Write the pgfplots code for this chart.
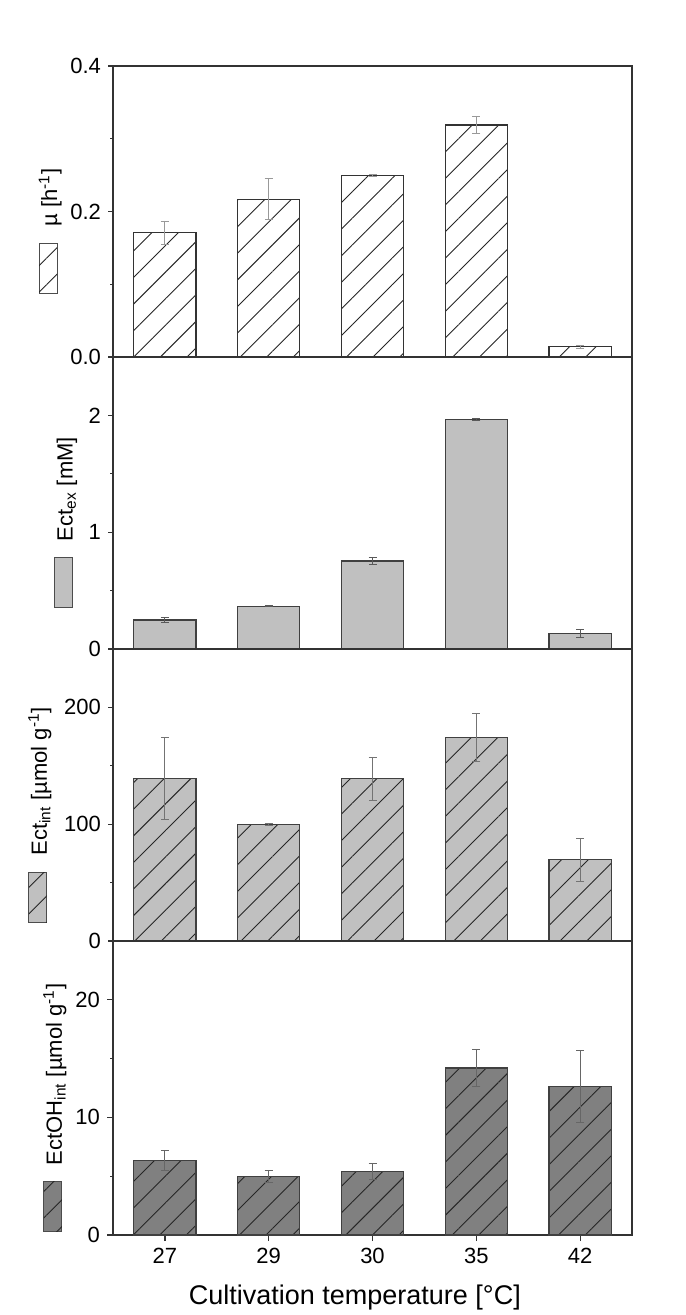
\documentclass[border=0pt]{standalone}
\usepackage{fontspec}
\setmainfont{Liberation Sans}
\usepackage{pgfplots}
\pgfplotsset{compat=1.18}
\usepackage{pgfplotstable}
\usetikzlibrary{patterns.meta}

\definecolor{lightbar}{HTML}{C0C0C0}
\definecolor{darkbar}{HTML}{808080}

\pgfplotstableread{
x y e
0 0.171 0.016
1 0.217 0.028
2 0.249 0.0015
3 0.319 0.012
4 0.014 0.002
}\dataMu

\pgfplotstableread{
x y e
0 0.249 0.02
1 0.367 0.005
2 0.753 0.03
3 1.963 0.01
4 0.135 0.035
}\dataEx

\pgfplotstableread{
x y e
0 139 35
1 100 1
2 139 18.5
3 174.4 20.5
4 69.7 18.5
}\dataInt

\pgfplotstableread{
x y e
0 6.32 0.85
1 4.98 0.5
2 5.41 0.7
3 14.21 1.6
4 12.65 3.06
}\dataOH

\tikzset{hatch/.style={postaction={pattern={Lines[angle=45,distance=9.4pt,line width=0.45pt]},pattern color=black!85}}}

\pgfplotsset{
  panel/.style={
    scale only axis, width=259.5pt, xmin=-0.5, xmax=4.5, ymin=0,
    anchor=south west,
    axis line style={black!80, line width=0.8pt},
    tick style={black!80, line width=0.6pt},
    tick align=outside, ytick pos=left, xtick pos=bottom,
    major tick length=2.5pt, minor tick length=1.5pt,
    ticklabel style={font=\fontsize{11}{13}\selectfont},
    /pgf/number format/assume math mode=true,
    xtick=\empty,
    ybar, bar width=0.6,
    ylabel style={at={(axis description cs:#1,0.432)}, anchor=center, font=\fontsize{11}{13}\selectfont},
  },
  errstyle/.style={
    error bars/.cd, y dir=both, y explicit,
    error bar style={#1, line width=0.45pt},
    error mark options={rotate=90, mark size=2pt, #1, line width=0.45pt},
  },
}

\newcommand{\legbox}[2]{\tikz[baseline=0pt]{\draw[draw=black!70, line width=0.6pt, fill=#1, #2] (0,0) rectangle (25pt,9pt);}\hspace{8pt}}

\begin{document}
\begin{tikzpicture}
\useasboundingbox (0,0) rectangle (342.5pt,-657.5pt);

% Panel 1
\begin{axis}[panel=-0.121, at={(56.5pt,-178.5pt)}, height=145.5pt, ymax=0.4,
  ytick={0,0.2,0.4}, minor ytick={0.1,0.3},
  yticklabel style={/pgf/number format/fixed,/pgf/number format/fixed zerofill,/pgf/number format/precision=1},
  ylabel={\legbox{white}{hatch}µ [h\textsuperscript{-1}]}]
\addplot[fill=white, draw=black!80, line width=0.6pt, hatch, errstyle=black!40] table[x=x,y=y,y error=e]{\dataMu};
\draw[black, line width=1.4pt] (rel axis cs:0,0) -- (rel axis cs:1,0);
\end{axis}

% Panel 2
\begin{axis}[panel=-0.0915, at={(56.5pt,-324.5pt)}, height=146pt, ymax=2.5,
  ytick={0,1,2}, minor ytick={0.5,1.5},
  ylabel={\legbox{lightbar}{}Ect\textsubscript{ex} [mM]}]
\addplot[fill=lightbar, draw=black!75, line width=0.6pt, errstyle=black!65] table[x=x,y=y,y error=e]{\dataEx};
\end{axis}

% Panel 3
\begin{axis}[panel=-0.141, at={(56.5pt,-470.5pt)}, height=146pt, ymax=250,
  ytick={0,100,200}, minor ytick={50,150},
  ylabel={\legbox{lightbar}{hatch}Ect\textsubscript{int} [µmol g\textsuperscript{-1}]}]
\addplot[fill=lightbar, draw=black!75, line width=0.6pt, hatch, errstyle=black!55] table[x=x,y=y,y error=e]{\dataInt};
\end{axis}

% Panel 4
\begin{axis}[panel=-0.112, at={(56.5pt,-617.5pt)}, height=147pt, ymax=25,
  ytick={0,10,20}, minor ytick={5,15},
  xtick={0,1,2,3,4}, xticklabels={27,29,30,35,42},
  major tick length=3pt,
  xlabel={Cultivation temperature [°C]},
  xlabel style={at={(axis description cs:0.466,-0.238)}, anchor=base, font=\fontsize{13.5}{16}\selectfont},
  ylabel={\legbox{darkbar}{hatch}EctOH\textsubscript{int} [µmol g\textsuperscript{-1}]}]
\addplot[fill=darkbar, draw=black!75, line width=0.6pt, hatch, errstyle=black!60] table[x=x,y=y,y error=e]{\dataOH};
\end{axis}
\end{tikzpicture}
\end{document}
